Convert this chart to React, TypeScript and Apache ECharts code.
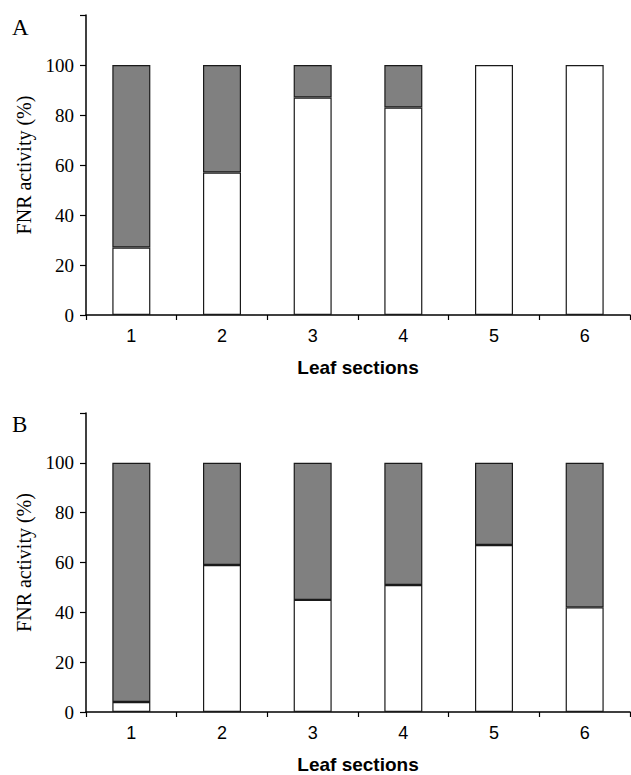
import React, { useEffect, useRef } from "react";
import * as echarts from "echarts";

const categories = ["1", "2", "3", "4", "5", "6"];
const whiteA = [27, 57, 87, 83, 100, 100];
const grayA = [73, 43, 13, 17, 0, 0];
const whiteB = [4, 59, 45, 51, 67, 42];
const grayB = [96, 41, 55, 49, 33, 58];
const yTicks = [0, 20, 40, 60, 80, 100];

export default function App() {
  const ref = useRef<HTMLDivElement>(null);
  useEffect(() => {
    if (!ref.current) return;
    const chart = echarts.init(ref.current, null, { renderer: "svg" });
    const serif = "Liberation Serif";
    const sans = "Liberation Sans";
    const grids = [
      { left: 86, top: 15, width: 544, height: 300 },
      { left: 86, top: 413, width: 544, height: 300 },
    ];
    const xAxes = grids.map((_, i) => ({
      type: "category",
      gridIndex: i,
      data: categories,
      boundaryGap: true,
      axisLine: { lineStyle: { color: "#000", width: 1.5 } },
      axisTick: { show: true, alignWithLabel: false, length: 5, lineStyle: { color: "#000", width: 1.2 } },
      axisLabel: { color: "#000", fontFamily: sans, fontSize: 18, margin: 12 },
      name: "Leaf sections",
      nameLocation: "middle",
      nameGap: 43,
      nameTextStyle: { color: "#000", fontFamily: sans, fontSize: 19, fontWeight: "bold" },
    }));
    const yAxes = grids.map((_, i) => ({
      type: "value",
      gridIndex: i,
      min: 0,
      max: 120,
      interval: 20,
      splitLine: { show: false },
      axisLine: { show: true, lineStyle: { color: "#000", width: 1.5 } },
      axisTick: { show: true, length: 6, lineStyle: { color: "#000", width: 1.2 } },
      axisLabel: {
        color: "#000",
        fontFamily: serif,
        fontSize: 19,
        margin: 12,
        formatter: (v: number) => (yTicks.includes(v) ? String(v) : ""),
      },
      name: "FNR activity (%)",
      nameLocation: "middle",
      nameGap: 52,
      nameTextStyle: { color: "#000", fontFamily: serif, fontSize: 20 },
    }));
    const mk = (data: number[], color: string, idx: number, stack: string) => ({
      type: "bar",
      xAxisIndex: idx,
      yAxisIndex: idx,
      stack,
      data: data.map((v) => (v === 0 ? null : v)),
      barWidth: 38,
      itemStyle: { color, borderColor: "#1a1a1a", borderWidth: 1.2 },
    });
    chart.setOption({
      animation: false,
      backgroundColor: "#fff",
      grid: grids,
      xAxis: xAxes,
      yAxis: yAxes,
      series: [
        mk(whiteA, "#ffffff", 0, "a"),
        mk(grayA, "#808080", 0, "a"),
        mk(whiteB, "#ffffff", 1, "b"),
        mk(grayB, "#808080", 1, "b"),
      ],
      graphic: [
        { type: "text", left: 12, top: 16, style: { text: "A", font: `23px '${serif}'`, fill: "#000" } },
        { type: "text", left: 12, top: 413, style: { text: "B", font: `23px '${serif}'`, fill: "#000" } },
      ],
    });
    return () => chart.dispose();
  }, []);
  return (
    <div
      ref={ref}
      style={{ position: "absolute", left: 0, top: 0, width: 631, height: 775, background: "#fff" }}
    />
  );
}
